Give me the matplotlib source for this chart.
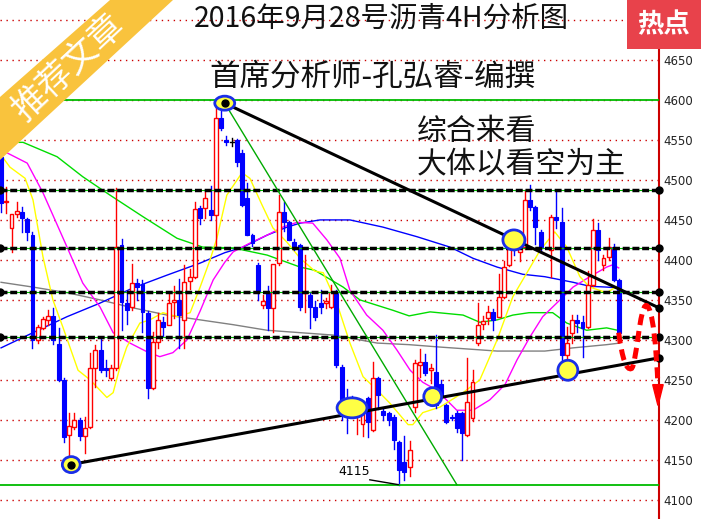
import matplotlib
matplotlib.use('Agg')
import matplotlib.pyplot as plt
from matplotlib.patches import Rectangle, Ellipse, Polygon, PathPatch
from matplotlib.path import Path
import numpy as np

plt.rcParams['font.family'] = ['Noto Sans CJK SC', 'DejaVu Sans']

# ---- 4H candles (bar index 0..118) ----
opens = [4529, 4472, 4440, 4458, 4460, 4451, 4431, 4300, 4315, 4325,
         4330, 4295, 4250, 4181, 4191, 4200, 4180, 4191, 4265, 4287,
         4265, 4252, 4265, 4419, 4346, 4341, 4371, 4370, 4334, 4240,
         4297, 4322, 4319, 4347, 4350, 4325, 4374, 4379, 4465, 4465,
         4462, 4456, 4578, 4550, 4548, 4550, 4534, 4478, 4431, 4394,
         4343, 4360, 4340, 4396, 4460, 4447, 4422, 4419, 4359, 4356,
         4341, 4346, 4346, 4341, 4359, 4266, 4222, 4221, 4209, 4195,
         4227, 4187, 4252, 4211, 4209, 4204, 4172, 4147, 4141, 4216,
         4268, 4272, 4262, 4260, 4245, 4219, 4203, 4209, 4209, 4181,
         4202, 4296, 4320, 4327, 4335, 4329, 4354, 4394, 4419, 4410,
         4416, 4475, 4466, 4435, np.nan, 4412, 4454, 4447, 4281, 4309,
         4325, 4322, 4316, 4369, 4437, 4394, 4404, 4416, 4375]
highs = [4535, 4491, 4458, 4472, 4466, 4452, 4435, 4318, 4328, 4337,
         4340, 4315, 4252, 4209, 4208, 4202, 4203, 4284, 4294, 4304,
         4275, 4268, 4490, 4426, 4360, 4395, 4376, 4375, 4336, 4310,
         4334, 4329, 4359, 4367, 4376, 4394, 4388, 4472, 4467, 4485,
         4492, 4590, 4596, 4555, 4553, 4551, 4538, 4496, 4433, 4396,
         4356, 4367, 4395, 4481, 4472, 4449, 4426, 4420, 4406, 4360,
         4348, 4362, 4352, 4368, 4362, 4268, 4238, 4230, 4224, 4222,
         4229, 4272, 4253, 4215, 4210, 4206, 4174, 4180, 4174, 4275,
         4288, 4282, 4270, 4306, 4250, 4220, 4206, 4211, 4210, 4277,
         4262, 4346, 4330, 4342, 4338, 4382, 4398, 4425, 4421, 4423,
         4487, 4494, 4468, 4437, np.nan, 4456, 4485, 4465, 4316, 4331,
         4331, 4330, 4386, 4451, 4446, 4406, 4427, 4420, 4376]
lows = [4460, 4459, 4410, 4454, 4435, 4425, 4290, 4296, 4313, 4318,
        4295, 4248, 4172, 4144, 4188, 4175, 4159, 4190, 4241, 4260,
        4255, 4250, 4262, 4312, 4320, 4337, 4350, 4310, 4227, 4238,
        4290, 4305, 4318, 4327, 4290, 4290, 4364, 4377, 4445, 4453,
        4450, 4415, 4562, 4544, 4543, 4518, 4467, 4431, 4418, 4350,
        4340, 4312, 4310, 4394, 4436, 4425, 4412, 4337, 4335, 4315,
        4325, 4334, 4340, 4340, 4266, 4200, 4184, 4205, 4182, 4180,
        4179, 4186, 4213, 4200, 4193, 4163, 4119, 4125, 4130, 4210,
        4254, 4256, 4246, 4215, 4225, 4196, 4200, 4185, 4150, 4180,
        4198, 4294, 4314, 4320, 4312, 4328, 4352, 4392, 4406, 4398,
        4414, 4463, 4420, 4410, np.nan, 4379, 4440, 4254, 4260, 4296,
        4310, 4279, 4315, 4367, 4400, 4387, 4400, 4374, 4309]
closes = [4471, 4474, 4457, 4461, 4452, 4435, 4300, 4316, 4326, 4330,
          4300, 4250, 4179, 4192, 4200, 4180, 4190, 4265, 4287, 4262,
          4262, 4265, 4416, 4347, 4337, 4371, 4366, 4335, 4240, 4297,
          4325, 4316, 4346, 4350, 4331, 4372, 4378, 4464, 4453, 4478,
          4456, 4577, 4565, 4547, 4548, 4522, 4469, 4431, 4421, 4360,
          4349, 4340, 4395, 4460, 4447, 4425, 4415, 4341, 4360, 4341,
          4328, 4341, 4348, 4360, 4269, 4209, 4209, 4212, 4216, 4210,
          4197, 4252, 4231, 4206, 4200, 4175, 4137, 4135, 4162, 4271,
          4272, 4259, 4265, 4219, 4229, 4197, 4202, 4190, 4184, 4222,
          4247, 4319, 4324, 4335, 4325, 4354, 4391, 4416, 4412, 4419,
          4475, 4466, 4441, 4416, np.nan, 4454, 4450, 4281, 4296, 4325,
          4321, 4315, 4369, 4437, 4412, 4402, 4416, 4375, 4309]

# ---- moving averages (bar index, price) ----
ma_yellow_x = [0, 1.7, 4.6, 6.1, 8.0, 9.9, 11.8, 14.7, 17.0, 20.2, 21.4, 22.7, 24.0, 26.5,
               28.4, 30.9, 33.6, 36.1, 38.0, 39.9, 41.2, 43.1, 46.0, 47.5, 49.8, 51.9,
               54.6, 57.1, 59.9, 61.5, 64.1, 66.6, 69.1, 71.8, 74.2, 77.7, 78.6, 80.5,
               83.8, 88.2, 91.4, 94.7, 97.7, 100.4, 102.9, 105.7, 108.0, 110.5, 112.4,
               115.6, 118.1]
ma_yellow_y = [4531, 4516, 4502, 4475, 4404, 4350, 4316, 4262, 4250, 4228, 4234, 4266, 4291,
               4321, 4325, 4334, 4329, 4334, 4366, 4400, 4427, 4481, 4509, 4502, 4469,
               4440, 4422, 4402, 4386, 4384, 4346, 4296, 4254, 4237, 4221, 4194, 4194,
               4209, 4216, 4234, 4250, 4300, 4354, 4384, 4412, 4435, 4416, 4379, 4366,
               4359, 4369]
ma_magenta_x = [0, 1.1, 5.0, 8.0, 12.6, 15.6, 18.9, 21.4, 24.6, 27.9, 30.3, 32.8, 35.5, 38.0,
                40.5, 42.7, 44.3, 47.5, 50.8, 53.8, 56.5, 59.5, 62.2, 64.7, 66.6, 69.8,
                72.9, 75.6, 78.1, 80.5, 83.2, 87.0, 90.1, 93.3, 96.2, 98.5, 101.0, 103.4,
                106.7, 109.2, 112.4, 115.6, 116.8, 117.9]
ma_magenta_y = [4537, 4534, 4521, 4484, 4416, 4371, 4341, 4309, 4296, 4285, 4279, 4284, 4300,
                4336, 4375, 4397, 4410, 4421, 4431, 4441, 4447, 4446, 4425, 4402, 4362,
                4331, 4312, 4287, 4262, 4247, 4237, 4212, 4212, 4225, 4244, 4275, 4304,
                4329, 4350, 4366, 4379, 4391, 4394, 4390]
ma_blue_x = [0, 6.1, 12.6, 18.9, 25.2, 31.7, 38.0, 42.7, 46.2, 50.8, 54.6, 57.1, 60.9, 66.6,
             72.9, 79.4, 85.7, 90.1, 94.7, 99.6, 103.8, 109.2, 112.4, 115.6, 117.7]
ma_blue_y = [4290, 4309, 4329, 4346, 4365, 4381, 4396, 4409, 4416, 4431, 4441, 4446, 4450,
             4450, 4441, 4429, 4416, 4402, 4391, 4382, 4379, 4372, 4367, 4366, 4365]
ma_green_x = [0, 4.2, 10.7, 15.6, 20.8, 27.1, 33.6, 38.5, 44.3, 50.8, 57.1, 59.9, 65.3, 68.5,
              74.8, 77.9, 81.9, 88.2, 91.4, 94.7, 97.7, 100.8, 105.3, 108.0, 111.8, 115.6,
              117.7]
ma_green_y = [4547, 4547, 4529, 4504, 4481, 4454, 4427, 4416, 4415, 4406, 4391, 4387, 4366,
              4350, 4337, 4330, 4335, 4331, 4322, 4325, 4331, 4334, 4334, 4321, 4312, 4315,
              4312]
ma_gray_x = [0, 6.1, 12.6, 18.9, 25.2, 31.7, 38.0, 44.3, 50.8, 57.1, 63.4, 71.8, 77.9, 83.8,
             94.7, 103.8, 109.2, 115.6, 118.1]
ma_gray_y = [4372, 4366, 4359, 4350, 4340, 4331, 4325, 4319, 4312, 4309, 4306, 4296, 4294,
             4291, 4286, 4286, 4290, 4294, 4296]

# ---- drawn analysis objects ----
dashed_levels = [4488, 4415, 4360, 4303]
green_levels = [4600, 4119]
down_trend = ([42.7, 125.6], [4596, 4340])
up_trend = ([13.2, 125.6], [4144, 4277.5])
fan_line = ([42.7, 87.0], [4596, 4119])
marks_x = [42.7, 13.4, 67.0, 82.4, 97.9, 108.2]
marks_y = [4596, 4144, 4215, 4229, 4425, 4262]
marks_w = [3.8, 3.4, 5.7, 3.4, 4.2, 3.8]
marks_h = [17.5, 20, 25, 22.5, 25, 25]
price_ticks = list(range(4100, 4651, 50))

fig = plt.figure(figsize=(7.01, 5.19), dpi=100)
ax = fig.add_axes([0, 0, 659 / 701, 1])
ax.set_xlim(-0.2, 125.6)
ax.set_ylim(4076, 4725)

# red dotted grid
for v in range(4100, 4701, 50):
    ax.axhline(v, color='#cc0000', lw=1, ls=(0, (1, 3.3)), zorder=1)

# moving averages
ax.plot(ma_gray_x, ma_gray_y, color='#808080', lw=1, zorder=2)
ax.plot(ma_green_x, ma_green_y, color='#00dd00', lw=1, zorder=2)
ax.plot(ma_blue_x, ma_blue_y, color='#0000ff', lw=1, zorder=2)
ax.plot(ma_magenta_x, ma_magenta_y, color='#ff00ff', lw=1, zorder=2)
ax.plot(ma_yellow_x, ma_yellow_y, color='#ffff00', lw=1, zorder=2)

# candles
w = 0.75
for i, (o, h, l, c) in enumerate(zip(opens, highs, lows, closes)):
    if np.isnan(o):
        continue
    top, bot = max(o, c), min(o, c)
    if c > o:
        ax.plot([i, i], [top, h], color='#ff0000', lw=1, zorder=3)
        ax.plot([i, i], [l, bot], color='#ff0000', lw=1, zorder=3)
        ax.add_patch(Rectangle((i - w / 2, bot), w, top - bot, facecolor='white',
                               edgecolor='#ff0000', lw=1, zorder=3))
    elif c < o:
        ax.plot([i, i], [l, h], color='#0000ff', lw=1, zorder=3)
        ax.add_patch(Rectangle((i - w / 2, bot), w, top - bot, facecolor='#0000ff',
                               edgecolor='#0000ff', lw=0.8, zorder=3))
    else:
        ax.plot([i, i], [l, h], color='black', lw=1, zorder=3)
        ax.plot([i - w / 2, i + w / 2], [o, o], color='black', lw=1, zorder=3)

# horizontal levels
for v in green_levels:
    ax.axhline(v, color='#00bb00', lw=1.3, zorder=4)
for v in dashed_levels:
    ax.axhline(v, color='#00bb00', lw=0.8, zorder=4)
    ax.axhline(v, color='black', lw=2.5, ls=(0, (2, 0.8)), zorder=4)
    ax.plot([-0.2, 125.6], [v, v], 'o', color='black', ms=5, clip_on=False, zorder=6)

# trend lines
ax.plot(*fan_line, color='#00aa00', lw=1, zorder=4)
for xs, ys in (down_trend, up_trend):
    ax.plot(xs, ys, color='black', lw=2.2, zorder=5)
    ax.plot([xs[1]], [ys[1]], 'o', color='black', ms=5, clip_on=False, zorder=6)

for x, y, ew, eh in zip(marks_x, marks_y, marks_w, marks_h):
    ax.add_patch(Ellipse((x, y), ew, eh, facecolor='#ffff44', edgecolor='#1a2ee8',
                         lw=2, zorder=6))
ax.plot([42.7, 13.4], [4596, 4144], 'o', color='black', ms=5, ls='none', zorder=7)

# low annotation
ax.text(67.4, 4135, '4115', fontsize=9, ha='center', va='center', family='DejaVu Sans',
        zorder=7)
ax.plot([70.4, 75.8], [4125, 4119], color='black', lw=1, zorder=7)

# forecast path
verts = [(117.9, 4309), (118.6, 4275), (119.4, 4262), (120.3, 4264),
         (121.3, 4266), (121.9, 4345), (123.2, 4343),
         (124.4, 4341), (125.1, 4290), (125.4, 4242)]
codes = [Path.MOVETO] + [Path.CURVE4] * 9
ax.add_patch(PathPatch(Path(verts, codes), fill=False, edgecolor='#ff0000', lw=3.6,
                       ls=(0, (2.2, 1.2)), clip_on=False, zorder=8))
ax.add_patch(Polygon([(124.4, 4244), (126.4, 4244), (125.4, 4218)], closed=True,
                     color='#ff0000', clip_on=False, zorder=8))

# axis styling
for s in ('top', 'left', 'bottom'):
    ax.spines[s].set_visible(False)
ax.spines['right'].set_color('#cc0000')
ax.spines['right'].set_linewidth(1.5)
ax.set_xticks([])
ax.yaxis.tick_right()
ax.set_yticks(price_ticks)
ax.set_yticklabels([str(t) for t in price_ticks], family='DejaVu Sans')
ax.tick_params(axis='y', length=0, pad=3, labelsize=8.5, labelcolor='#222222')


def fx(px):
    return px / 701


def fy(py):
    return 1 - py / 519


# corner ribbon
fig.patches.append(Polygon([(fx(0), fy(97)), (fx(110), fy(0)), (fx(173), fy(0)),
                            (fx(0), fy(160))], closed=True, transform=fig.transFigure,
                           facecolor='#f9c33d', edgecolor='none', zorder=10))
fig.text(fx(69), fy(67), '推荐文章', rotation=43, color='white', fontsize=25,
         ha='center', va='center', zorder=11)

# hot badge
fig.patches.append(Rectangle((fx(627), fy(49)), 74 / 701, 49 / 519,
                             transform=fig.transFigure, facecolor='#e8424b',
                             edgecolor='none', zorder=10))
fig.text(fx(664), fy(25), '热点', color='white', fontsize=19, fontweight='bold',
         ha='center', va='center', zorder=11)

# titles
fig.text(fx(381), fy(19), '2016年9月28号沥青4H分析图', fontsize=20.5, ha='center',
         va='center', color='#111111')
fig.text(fx(372), fy(77), '首席分析师-孔弘睿-编撰', fontsize=22, ha='center',
         va='center', color='#111111')
fig.text(fx(417), fy(131), '综合来看', fontsize=21.5, ha='left', va='center',
         color='#111111')
fig.text(fx(417), fy(164), '大体以看空为主', fontsize=21.5, ha='left', va='center',
         color='#111111')

fig.savefig('out.png', dpi=100)
